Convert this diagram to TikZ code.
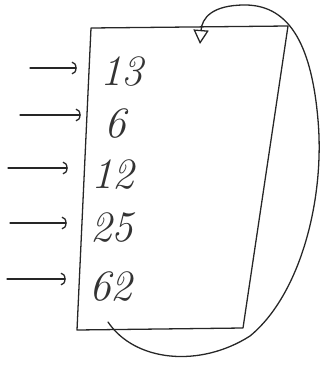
\documentclass[tikz,border=0pt]{standalone}
\usepackage{tikz}
\usetikzlibrary{arrows.meta, calc}

\tikzset{
	pencil/.style={line width=1.1pt, black!85, line cap=round, line join=round},
	entry/.style={anchor=west, inner sep=0pt, text=black!80, font=\fontsize{37}{44}\selectfont\itshape},
	feed/.style={pencil, -{Arc Barb[length=4pt, width=11pt]}, shorten >=0.7cm},
}

\begin{document}
\begin{tikzpicture}[x=0.03cm, y=-0.03cm]
	\useasboundingbox (0,0) rectangle (323,367);
	% the box (slightly skewed, as sketched)
	\coordinate (tl) at (91,28);
	\coordinate (tr) at (288,26);
	\coordinate (br) at (243,328);
	\coordinate (bl) at (77,330);
	\draw[pencil] (tl) -- (tr) -- (br) -- (bl) -- cycle;
	% entries
	\node[entry] (n1) at (100,72) {13};
	\node[entry] (n2) at (104,124) {6};
	\node[entry] (n3) at (91,175) {12};
	\node[entry] (n4) at (90,228) {25};
	\node[entry] (n5) at (89,287) {62};
	% incoming arrows
	\foreach \k/\x/\y in {1/30/68, 2/20/115, 3/8/168, 4/10/223, 5/7/279} {
		\coordinate (s\k) at (\x,\y);
		\draw[feed] (s\k) -- (s\k -| n\k.west);
	}
	% loop from the bottom back to the top
	\coordinate (loopstart) at (108,322);
	\coordinate (looptip) at (200,44);
	\draw[pencil, -{Triangle[open, length=12pt, width=13pt]}] (loopstart)
		.. controls (135,362) and (200,368) .. (250,336)
		.. controls (300,295) and (325,200) .. (318,120)
		.. controls (312,50) and (292,5) .. (245,5)
		.. controls (212,5) and (202,18) .. (looptip);
\end{tikzpicture}
\end{document}
